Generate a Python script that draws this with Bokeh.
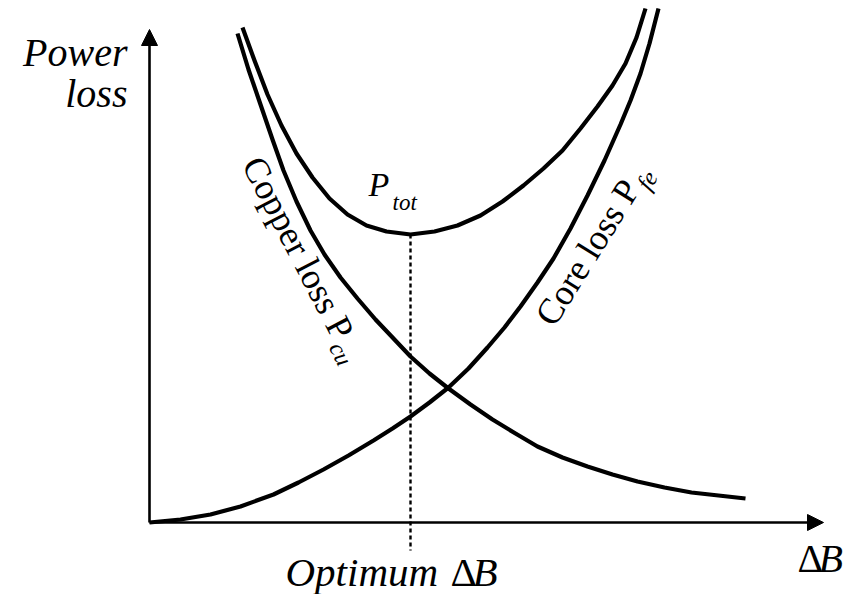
from bokeh.plotting import figure
from bokeh.models import Arrow, NormalHead, Label
from bokeh.embed import file_html
from bokeh.resources import INLINE

# ---- data (arbitrary units) ----
cu_x = [0.88, 0.99, 1.11, 1.23, 1.34, 1.47, 1.61, 1.75, 1.91, 2.08, 2.26, 2.44, 2.61, 2.80,
        2.99, 3.21, 3.43, 3.66, 3.88, 4.13, 4.38, 4.63, 4.88, 5.15, 5.42, 5.69, 5.96]
cu_y = [4.89, 4.53, 4.18, 3.83, 3.52, 3.21, 2.92, 2.68, 2.45, 2.24, 2.03, 1.84, 1.66, 1.49,
        1.34, 1.18, 1.03, 0.89, 0.76, 0.65, 0.56, 0.48, 0.41, 0.35, 0.30, 0.27, 0.24]

tot_x = [0.93, 1.05, 1.18, 1.32, 1.47, 1.63, 1.80, 1.98, 2.17, 2.37, 2.61, 2.85, 3.08, 3.31,
         3.53, 3.74, 3.94, 4.13, 4.31, 4.48, 4.63, 4.76, 4.87, 4.96]
tot_y = [4.95, 4.62, 4.28, 3.97, 3.69, 3.45, 3.24, 3.08, 2.97, 2.91, 2.88, 2.91, 2.97, 3.07,
         3.21, 3.37, 3.54, 3.72, 3.94, 4.16, 4.37, 4.59, 4.85, 5.14]

fe_x = [0.00, 0.31, 0.61, 0.91, 1.24, 1.49, 1.74, 1.99, 2.24, 2.43, 2.61, 2.80, 2.99, 3.19,
        3.38, 3.55, 3.71, 3.88, 4.04, 4.21, 4.38, 4.55, 4.71, 4.81, 4.91, 5.00, 5.09]
fe_y = [0.00, 0.03, 0.08, 0.16, 0.28, 0.40, 0.53, 0.67, 0.82, 0.94, 1.06, 1.20, 1.35, 1.54,
        1.75, 1.95, 2.16, 2.40, 2.64, 2.94, 3.27, 3.62, 3.98, 4.22, 4.49, 4.79, 5.14]

opt_x = 2.61          # optimum flux swing
opt_y = 2.88          # minimum total loss
x_axis_end = 6.74
y_axis_end = 4.93

FONT = "Liberation Serif"

p = figure(width=851, height=594, output_backend="svg", toolbar_location=None,
           x_range=(-1.49, 7.02), y_range=(-0.72, 5.22), min_border=0)
p.axis.visible = False
p.grid.visible = False
p.outline_line_color = None
p.background_fill_color = "white"
p.border_fill_color = "white"

# axes with arrow heads
p.add_layout(Arrow(end=NormalHead(size=16, fill_color="black", line_color="black", line_width=1),
                   x_start=0, y_start=0, x_end=x_axis_end, y_end=0,
                   line_width=2.6, line_color="black"))
p.add_layout(Arrow(end=NormalHead(size=16, fill_color="black", line_color="black", line_width=1),
                   x_start=0, y_start=0, x_end=0, y_end=y_axis_end,
                   line_width=2.6, line_color="black"))

# curves
for xs, ys in ((cu_x, cu_y), (tot_x, tot_y), (fe_x, fe_y)):
    p.line(xs, ys, line_width=4.2, line_color="black", line_join="round")

# dashed optimum marker
p.line([opt_x, opt_x], [opt_y, -0.28], line_width=2.4, line_color="black", line_dash="4 3")

def lab(x, y, text, size, style="italic", angle=0.0, align="left", baseline="alphabetic"):
    p.add_layout(Label(x=x, y=y, text=text, text_font=FONT, text_font_size=f"{size}px",
                       text_font_style=style, angle=angle, text_align=align,
                       text_baseline=baseline, text_color="black"))

# y axis title
lab(-0.22, 4.698, "Power", 40, align="right")
lab(-0.22, 4.288, "loss", 40, align="right")

# total loss label
lab(2.19, 3.376, "P", 34)
lab(2.43, 3.205, "tot", 23)

# copper loss label (rotated)
lab(1.025, 3.632, "Copper loss P", 36, style="normal", angle=-1.091)
lab(1.86, 1.787, "cu", 24, angle=-1.091)

# core loss label (rotated)
lab(3.945, 2.005, "Core loss P", 36, style="normal", angle=1.012)
lab(4.931, 3.347, "fe", 24, angle=1.012)

# x annotations
lab(1.36, -0.498, "Optimum", 41)
lab(3.01, -0.498, "\u0394", 41, style="normal")
lab(3.23, -0.498, "B", 41)

lab(6.48, -0.362, "\u0394", 40, style="normal")
lab(6.69, -0.362, "B", 40)

open("out.html", "w").write(file_html(p, INLINE))
